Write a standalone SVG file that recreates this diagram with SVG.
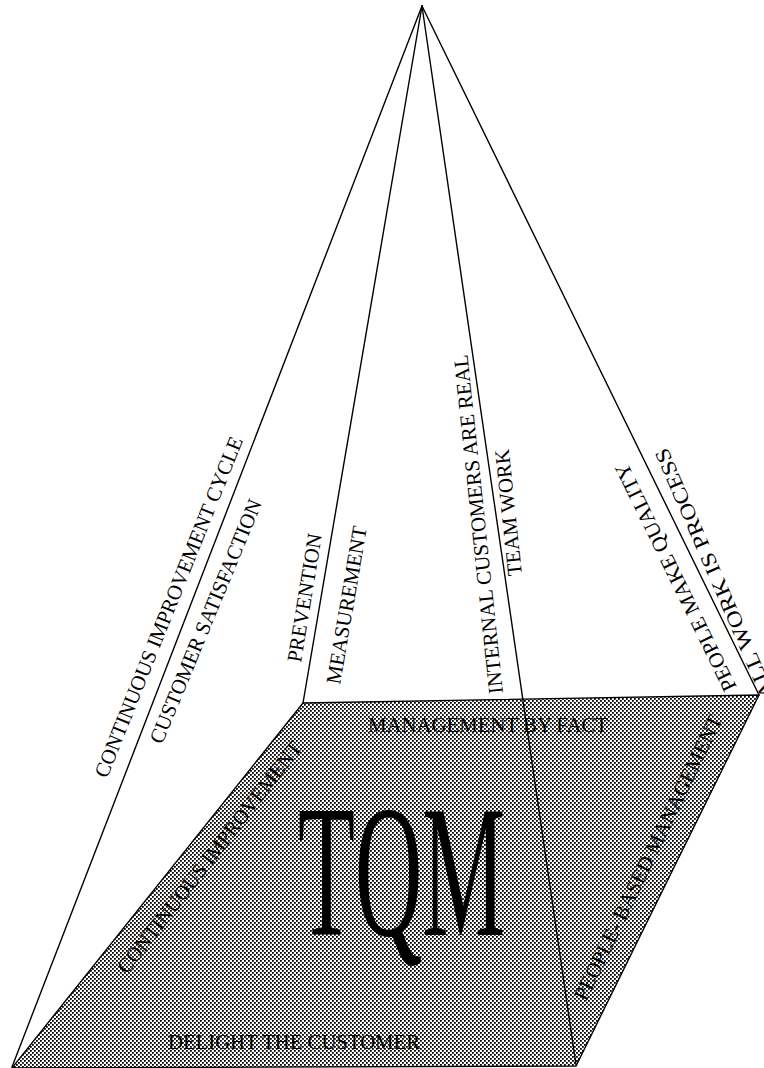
<svg xmlns="http://www.w3.org/2000/svg" width="764" height="1068" viewBox="0 0 764 1068">
<defs>
<pattern id="dots" width="4" height="4" patternUnits="userSpaceOnUse">
<rect x="0" y="0" width="4" height="4" fill="#fff"/>
<rect x="0" y="0" width="1.8" height="1.8" fill="#000"/>
<rect x="2" y="2" width="1.8" height="1.8" fill="#000"/>
</pattern>
<style>
.ln{stroke:#000;stroke-width:1.4;fill:none;stroke-linecap:round}
.t{font-family:"Liberation Serif","Times New Roman",serif;font-size:21px;fill:#000}
.big{font-family:"Liberation Serif","Times New Roman",serif;font-size:189px;fill:#000}
</style>
</defs>
<rect width="764" height="1068" fill="#fff"/>
<g id="base">
<polygon points="303,703 759,695 576,1066 12,1068" fill="url(#dots)" stroke="#000" stroke-width="1.4"/>
</g>
<g id="connectors">
<line class="ln" x1="422" y1="6" x2="12" y2="1067"/>
<line class="ln" x1="422" y1="6" x2="303" y2="703"/>
<line class="ln" x1="422" y1="6" x2="576" y2="1065"/>
<line class="ln" x1="422" y1="6" x2="759" y2="695"/>
</g>
<g id="face-left">
<text class="t" transform="translate(107,779) rotate(-68.1)" textLength="365" lengthAdjust="spacingAndGlyphs">CONTINUOUS IMPROVEMENT CYCLE</text>
<text class="t" transform="translate(162,745) rotate(-67.5)" textLength="262" lengthAdjust="spacingAndGlyphs">CUSTOMER SATISFACTION</text>
</g>
<g id="face-front-left">
<text class="t" transform="translate(301,663) rotate(-80.7)" textLength="130" lengthAdjust="spacingAndGlyphs">PREVENTION</text>
<text class="t" transform="translate(340,685) rotate(-80.3)" textLength="160" lengthAdjust="spacingAndGlyphs">MEASUREMENT</text>
</g>
<g id="face-front-right">
<text class="t" transform="translate(503,693) rotate(-96)" textLength="341" lengthAdjust="spacingAndGlyphs">INTERNAL CUSTOMERS ARE REAL</text>
<text class="t" transform="translate(522,575) rotate(-96)" textLength="127" lengthAdjust="spacingAndGlyphs">TEAM WORK</text>
</g>
<g id="face-right">
<text class="t" transform="translate(737,687) rotate(-116)" textLength="251" lengthAdjust="spacingAndGlyphs">PEOPLE MAKE QUALITY</text>
<text class="t" transform="translate(775,695) rotate(-113.5)" textLength="271" lengthAdjust="spacingAndGlyphs">ALL WORK IS PROCESS</text>
</g>
<g id="base-labels">
<text class="t" transform="translate(127,975) rotate(-52.2)" textLength="287" lengthAdjust="spacingAndGlyphs">CONTINUOUS IMPROVEMENT</text>
<text class="t" x="368" y="732" textLength="240" lengthAdjust="spacingAndGlyphs">MANAGEMENT BY FACT</text>
<text class="t" x="168" y="1049" textLength="252" lengthAdjust="spacingAndGlyphs">DELIGHT THE CUSTOMER</text>
<text class="t" transform="translate(586,1002) rotate(-64.2)" textLength="314" lengthAdjust="spacingAndGlyphs">PEOPLE- BASED MANAGEMENT</text>
</g>
<g id="tqm">
<text class="big" x="298" y="935" textLength="207" lengthAdjust="spacingAndGlyphs">TQM</text>
</g>
</svg>
